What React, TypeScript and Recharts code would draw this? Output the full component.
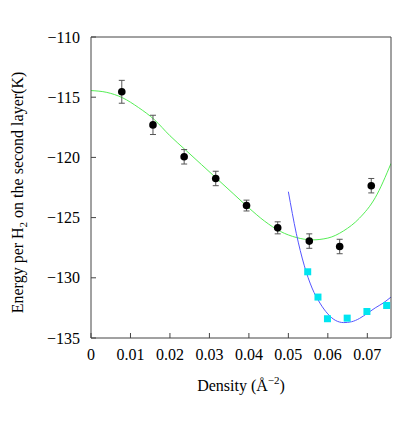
import React from "react";
import {
  ComposedChart,
  Line,
  Scatter,
  ErrorBar,
  XAxis,
  YAxis,
  Label,
} from "recharts";

// Monte Carlo points (black, with error bars)
const dotDensity = [0.0078, 0.0157, 0.0236, 0.0316, 0.0394, 0.0473, 0.0553, 0.063, 0.071];
const dotEnergy = [-114.55, -117.3, -119.95, -121.75, -124.0, -125.85, -126.95, -127.4, -122.35];
const dotError = [0.95, 0.8, 0.6, 0.6, 0.45, 0.5, 0.6, 0.6, 0.6];

// second set (cyan squares)
const sqDensity = [0.0549, 0.0575, 0.0599, 0.0649, 0.0699, 0.0749];
const sqEnergy = [-129.5, -131.6, -133.4, -133.35, -132.8, -132.3];

// green fit
const greenX = [0, 0.004, 0.008, 0.012, 0.016, 0.02, 0.024, 0.028, 0.032, 0.036, 0.04, 0.044, 0.048, 0.052, 0.056, 0.06, 0.064, 0.068, 0.072, 0.076];
const greenY = [-114.45, -114.6, -115.05, -115.85, -116.85, -118.2, -119.4, -120.6, -121.8, -123.0, -124.2, -125.3, -126.15, -126.65, -126.85, -126.7, -126.1, -125.05, -123.35, -120.5];

// blue fit
const blueX = [0.05, 0.052, 0.054, 0.056, 0.058, 0.06, 0.062, 0.064, 0.066, 0.068, 0.07, 0.072, 0.074, 0.076];
const blueY = [-122.85, -126.3, -128.95, -130.85, -132.1, -133.0, -133.55, -133.72, -133.65, -133.38, -132.95, -132.5, -132.1, -131.6];

const xTicks = [0, 0.01, 0.02, 0.03, 0.04, 0.05, 0.06, 0.07];
const yTicks = [-135, -130, -125, -120, -115, -110];

const dots = dotDensity.map((x, i) => ({ x, y: dotEnergy[i], err: dotError[i] }));
const squares = sqDensity.map((x, i) => ({ x, y: sqEnergy[i] }));
const green = greenX.map((x, i) => ({ x, y: greenY[i] }));
const blue = blueX.map((x, i) => ({ x, y: blueY[i] }));

const FONT = "Times New Roman, Liberation Serif, DejaVu Serif, serif";
const AXIS = "#444";
const minus = (v: number) => String(v).replace("-", "\u2212");

const tickStyle = { fill: "#000", fontSize: 16, fontFamily: FONT, style: { fontFamily: FONT } };

const Dot = (p: any) => <circle cx={p.cx} cy={p.cy} r={3.8} fill="#000" />;
const Square = (p: any) => (
  <rect x={p.cx - 3.5} y={p.cy - 3.5} width={7} height={7} fill="#00e5f0" />
);

const XLabel = (p: any) => {
  const vb = p.viewBox || { x: 91, y: 338, width: 300 };
  const cx = vb.x + vb.width / 2;
  return (
    <text x={cx} y={vb.y + 53} textAnchor="middle" fontSize={16} style={{ fontFamily: FONT }} fill="#000">
      <tspan>Density (Å</tspan>
      <tspan dy={-7} fontSize={11}>−2</tspan>
      <tspan dy={7}>)</tspan>
    </text>
  );
};

const YLabel = (p: any) => {
  const vb = p.viewBox || { x: 0, y: 37, height: 301 };
  const x = vb.x + 23;
  const y = vb.y + vb.height / 2 + 5;
  return (
    <text
      x={x}
      y={y}
      transform={`rotate(-90, ${x}, ${y})`}
      textAnchor="middle"
      fontSize={16}
      style={{ fontFamily: FONT }}
      fill="#000"
    >
      <tspan>Energy per H</tspan>
      <tspan dy={4} fontSize={11}>2</tspan>
      <tspan dy={-4}> on the second layer(K)</tspan>
    </text>
  );
};

export default function App() {
  return (
    <div style={{ position: "absolute", left: 0, top: 0, width: 409, height: 426, background: "#fff", fontFamily: FONT }}>
      <ComposedChart width={409} height={426} margin={{ top: 36, right: 17, bottom: 38, left: 0 }}>
        <XAxis
          dataKey="x"
          type="number"
          domain={[0, 0.076]}
          ticks={xTicks}
          allowDataOverflow
          height={50}
          tickSize={-5}
          tickMargin={16}
          tick={tickStyle}
          stroke={AXIS}
        >
          <Label content={XLabel} />
        </XAxis>
        <XAxis
          xAxisId="top"
          orientation="top"
          dataKey="x"
          type="number"
          domain={[0, 0.076]}
          ticks={xTicks}
          allowDataOverflow
          height={1}
          tickSize={-5}
          tick={false}
          stroke={AXIS}
        />
        <YAxis
          dataKey="y"
          type="number"
          domain={[-135, -110]}
          ticks={yTicks}
          allowDataOverflow
          width={91}
          tickSize={-5}
          tickMargin={16}
          tick={tickStyle}
          tickFormatter={minus}
          stroke={AXIS}
        >
          <Label content={YLabel} />
        </YAxis>
        <YAxis
          yAxisId="right"
          orientation="right"
          dataKey="y"
          type="number"
          domain={[-135, -110]}
          ticks={yTicks}
          allowDataOverflow
          width={1}
          tickSize={-5}
          tick={false}
          stroke={AXIS}
        />
        <Line data={green} dataKey="y" type="monotone" stroke="#55ee55" strokeWidth={1} dot={false} isAnimationActive={false} />
        <Line data={blue} dataKey="y" type="monotone" stroke="#5555ff" strokeWidth={1} dot={false} isAnimationActive={false} />
        <Scatter
          data={squares}
          dataKey="y"
          xAxisId="top"
          yAxisId="right"
          shape={Square}
          isAnimationActive={false}
        />
        <Scatter data={dots} dataKey="y" shape={Dot} isAnimationActive={false}>
          <ErrorBar dataKey="err" direction="y" width={3} stroke="#555" strokeWidth={1} />
        </Scatter>
      </ComposedChart>
    </div>
  );
}
